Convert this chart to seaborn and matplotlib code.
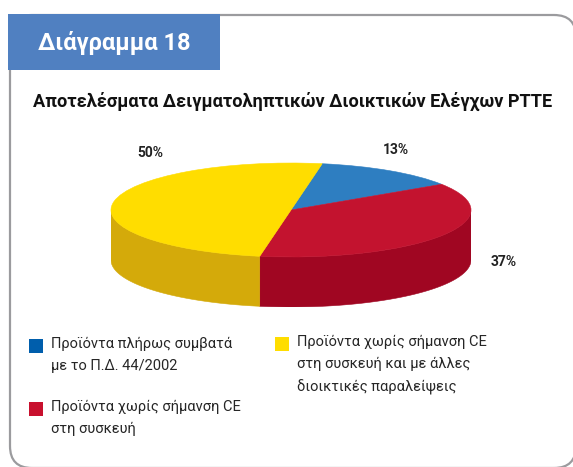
import numpy as np
import matplotlib
matplotlib.use('Agg')
import matplotlib.pyplot as plt
from matplotlib import font_manager
from matplotlib.patches import FancyBboxPatch, Rectangle
import seaborn as sns

# data
categories = [
    'Προϊόντα πλήρως συμβατά\nμε το Π.Δ. 44/2002',
    'Προϊόντα χωρίς σήμανση CE\nστη συσκευή',
    'Προϊόντα χωρίς σήμανση CE\nστη συσκευή και με άλλες\nδιοικτικές παραλείψεις',
]
shares = [13, 37, 50]
top_colors = ['#2E7EC1', '#C3132F', '#FFDD00']
side_colors = ['#1F5C93', '#A00622', '#D4AA0A']
legend_colors = ['#005EAC', '#C8102E', '#FFDD00']

chart_no = 'Διάγραμμα 18'
subtitle = 'Αποτελέσματα Δειγματοληπτικών Διοικτικών Ελέγχων PTTE'

W, H = 573, 467

sns.set_theme(style='white')
installed = {f.name for f in font_manager.fontManager.ttflist}
narrow = 'Liberation Sans Narrow' if 'Liberation Sans Narrow' in installed else 'Roboto'
plt.rcParams['font.family'] = [narrow, 'DejaVu Sans']

fig = plt.figure(figsize=(W / 100, H / 100), dpi=100)
fig.patch.set_facecolor('white')

# background axes in pixel coords (y down)
bg = fig.add_axes([0, 0, 1, 1])
bg.set_xlim(0, W)
bg.set_ylim(H, 0)
bg.axis('off')

frame = FancyBboxPatch((10, 15), 566, 453, boxstyle='round,pad=0,rounding_size=22',
                       facecolor='white', edgecolor='#9B9B9E', linewidth=1.6, zorder=1)
bg.add_patch(frame)
bg.add_patch(Rectangle((8, 14), 212, 56, facecolor='#5080C1', edgecolor='none', zorder=2))
bg.text(38, 43, chart_no, color='white', fontsize=17, fontweight='bold',
        va='center', ha='left', zorder=3)
bg.text(33, 101, subtitle, color='#111111', fontsize=13.1, fontweight='bold',
        va='center', ha='left', zorder=3)

# legend
legend_pos = [(29, 346), (29, 409), (275, 344)]
for (x, y), lab, col in zip(legend_pos, categories, legend_colors):
    bg.add_patch(Rectangle((x, y - 7), 14, 14, facecolor=col, edgecolor='none', zorder=3))
    bg.text(x + 22, y - 9, lab, fontsize=10.5, color='#262626', va='top', ha='left',
            linespacing=1.72, zorder=3)

# 3D pie: ellipse center (291, 210), rx 180, ry 47, depth 50 px
cx, cy, rx, ry, depth_px = 291, 210, 180, 47, 50
depth = depth_px / ry
ax = fig.add_axes([(cx - rx) / W, (H - cy - ry - depth_px) / H,
                   2 * rx / W, (2 * ry + depth_px) / H])
startangle = 80
wedges, _ = ax.pie(shares, colors=top_colors, startangle=startangle, counterclock=False,
                   radius=1, wedgeprops=dict(linewidth=0.4))
for w, c in zip(wedges, top_colors):
    w.set_edgecolor(c)
ax.set_aspect('auto')
ax.set_xlim(-1, 1)
ax.set_ylim(-1 - depth, 1)
ax.axis('off')

# side walls for the front half of each wedge
t1 = startangle
for share, col in zip(shares, side_colors):
    t2 = t1 - share / sum(shares) * 360
    for k in (-720, -360, 0, 360):
        lo, hi = max(t2, 180 + k), min(t1, 360 + k)
        if hi > lo:
            t = np.radians(np.linspace(lo, hi, 120))
            xs = np.concatenate([np.cos(t), np.cos(t[::-1])])
            ys = np.concatenate([np.sin(t), np.sin(t[::-1]) - depth])
            ax.fill(xs, ys, color=col, linewidth=0.4, edgecolor=col, zorder=0)
    t1 = t2

# percentage labels
label_xy = [(0.58, 1.28), (1.18, -1.11), (-0.78, 1.21)]
for (lx, ly), v in zip(label_xy, shares):
    ax.text(lx, ly, f'{v}%', fontsize=10, fontweight='bold', color='#222222',
            ha='center', va='center', clip_on=False)

fig.savefig('out.png', dpi=100)
